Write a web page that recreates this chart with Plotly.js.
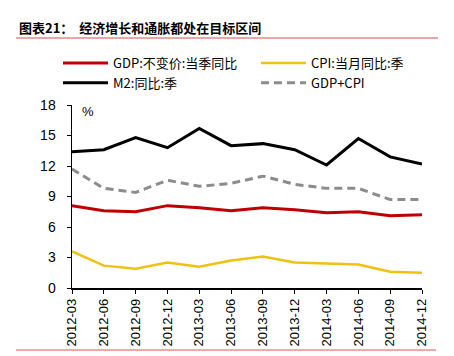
<!DOCTYPE html>
<html>
<head>
<meta charset="utf-8">
<script src="https://cdn.plot.ly/plotly-3.0.1.min.js"></script>
<style>
  html, body { margin: 0; padding: 0; background: #fff; }
  #chart { width: 454px; height: 356px; }
</style>
</head>
<body>
<div id="chart"></div>
<script>
// Categories (quarter ends)
const quarters = ["2012-03","2012-06","2012-09","2012-12","2013-03","2013-06","2013-09","2013-12","2014-03","2014-06","2014-09","2014-12"];
// Series values (%)
const gdp    = [8.1, 7.6, 7.5, 8.1, 7.9, 7.6, 7.9, 7.7, 7.4, 7.5, 7.1, 7.2];
const cpi    = [3.6, 2.2, 1.9, 2.5, 2.1, 2.7, 3.1, 2.5, 2.4, 2.3, 1.6, 1.5];
const m2     = [13.4, 13.6, 14.8, 13.8, 15.7, 14.0, 14.2, 13.6, 12.1, 14.7, 12.9, 12.2];
const gdpCpi = [11.7, 9.8, 9.4, 10.6, 10.0, 10.3, 11.0, 10.2, 9.8, 9.8, 8.7, 8.7];
// Labels
const seriesNames = ["GDP:不变价:当季同比", "CPI:当月同比:季", "M2:同比:季", "GDP+CPI"];
const yTicks = [0, 3, 6, 9, 12, 15, 18];
const titleText = "<b>图表21：  经济增长和通胀都处在目标区间</b>";
const unitText = "%";

const cjk = '"Noto Sans CJK SC", "Liberation Sans", sans-serif';

const traces = [
  {x: quarters, y: gdp, name: seriesNames[0], type: "scatter", mode: "lines",
   legend: "legend", legendgroup: "a",
   line: {color: "#C00000", width: 3}},
  {x: quarters, y: cpi, name: seriesNames[1], type: "scatter", mode: "lines",
   legend: "legend2", legendgroup: "c",
   line: {color: "#F2C10F", width: 2.5}},
  {x: quarters, y: m2, name: seriesNames[2], type: "scatter", mode: "lines",
   legend: "legend", legendgroup: "b",
   line: {color: "#000000", width: 3}},
  {x: quarters, y: gdpCpi, name: seriesNames[3], type: "scatter", mode: "lines",
   legend: "legend2", legendgroup: "d",
   line: {color: "#8C8C8C", width: 3, dash: "8px,5px"}}
];

const plotL = 72, plotR = 422, plotT = 105, plotB = 288;
const W = 454, H = 356;
const pw = plotR - plotL, ph = plotB - plotT;
const px = v => (v - plotL) / pw;
const py = v => (plotB - v) / ph;

const legendBase = {
  orientation: "v", yanchor: "top", xanchor: "left",
  itemwidth: 45, tracegroupgap: 3,
  font: {family: cjk, size: 13, color: "#000"},
  bgcolor: "rgba(0,0,0,0)", traceorder: "normal"
};

const layout = {
  width: W, height: H,
  margin: {l: plotL, r: W - plotR, t: plotT, b: H - plotB, pad: 0},
  paper_bgcolor: "#fff", plot_bgcolor: "#fff",
  font: {family: '"Liberation Sans", Arial, sans-serif', size: 13, color: "#000"},
  showlegend: true,
  legend: Object.assign({}, legendBase, {x: px(58), y: py(48)}),
  legend2: Object.assign({}, legendBase, {x: px(256), y: py(48)}),
  xaxis: {
    type: "category", range: [0, 11], showgrid: false, zeroline: false,
    showline: true, linecolor: "#000", linewidth: 1.5,
    ticks: "outside", ticklen: 4, tickcolor: "#000", tickwidth: 1,
    tickangle: -90, tickfont: {size: 13, color: "#000"}, fixedrange: true
  },
  yaxis: {
    range: [0, 18], tickvals: yTicks, showgrid: false, zeroline: false,
    showline: true, linecolor: "#000", linewidth: 1.5,
    ticks: "outside", ticklen: 4, tickcolor: "#000", tickwidth: 1,
    tickfont: {size: 14, color: "#000"}, ticklabelstandoff: 8, fixedrange: true
  },
  annotations: [
    {text: titleText, xref: "paper", yref: "paper", x: px(17), y: py(27),
     xanchor: "left", yanchor: "middle", showarrow: false,
     font: {family: cjk, size: 13, color: "#000"}},
    {text: unitText, xref: "paper", yref: "paper", x: px(80), y: py(111),
     xanchor: "left", yanchor: "middle", showarrow: false,
     font: {size: 13, color: "#000"}}
  ],
  shapes: [
    {type: "line", xref: "paper", yref: "paper", x0: px(16), x1: px(438), y0: py(38), y1: py(38),
     line: {color: "#E08A8A", width: 1.5}},
    {type: "line", xref: "paper", yref: "paper", x0: px(16), x1: px(436), y0: py(350), y1: py(350),
     line: {color: "#E88C8C", width: 1.5}}
  ]
};

Plotly.newPlot("chart", traces, layout, {displayModeBar: false, staticPlot: true});
</script>
</body>
</html>
